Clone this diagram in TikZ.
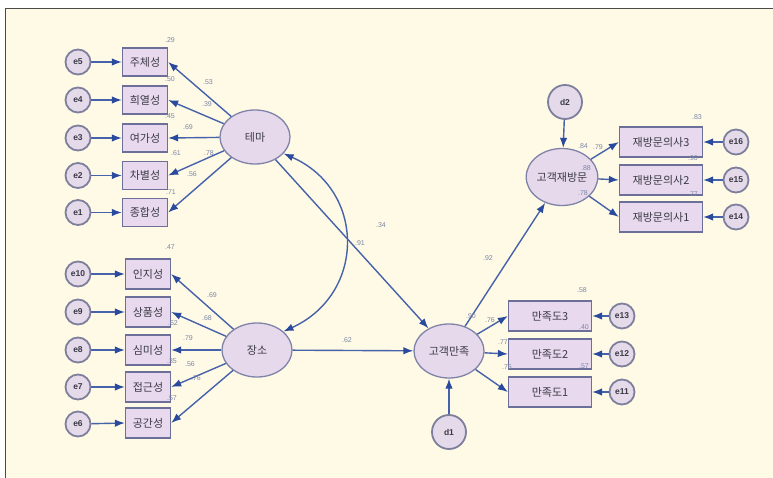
\documentclass[tikz,border=0pt]{standalone}
\usepackage{fontspec}
\setmainfont{Liberation Sans}
\newfontfamily\kr{Noto Sans CJK KR}
\usetikzlibrary{arrows.meta,shapes.geometric}
\definecolor{bg}{HTML}{FFFAE6}
\definecolor{framec}{HTML}{4A4A48}
\definecolor{boxfill}{HTML}{E8D9EE}
\definecolor{boxdraw}{HTML}{6C7099}
\definecolor{ellfill}{HTML}{E7D9EC}
\definecolor{elldraw}{HTML}{7F83A8}
\definecolor{circfill}{HTML}{E4DAEA}
\definecolor{circdraw}{HTML}{7D7F9C}
\definecolor{linec}{HTML}{4562AA}
\definecolor{tipc}{HTML}{2A4A9E}
\definecolor{txt}{HTML}{3A3A44}
\definecolor{labc}{HTML}{7C86A6}
\begin{document}
\begin{tikzpicture}[x=1pt,y=-1pt,
  obs/.style={draw=boxdraw, line width=1.3pt, fill=boxfill, minimum width=45pt, minimum height=28pt, inner sep=0pt, font=\kr\fontsize{11}{12}\selectfont, text=txt},
  obsw/.style={obs, minimum width=83pt, minimum height=30pt},
  lat/.style={ellipse, draw=elldraw, line width=1.3pt, fill=ellfill, minimum width=70pt, minimum height=54pt, inner sep=0pt, font=\kr\fontsize{11}{12}\selectfont, text=txt},
  err/.style={circle, draw=circdraw, line width=1.8pt, fill=circfill, minimum size=25pt, inner sep=0pt, font=\bfseries\fontsize{8.5}{9}\selectfont, text=txt},
  dist/.style={err, minimum size=34pt},
  arr/.style={draw=linec, line width=1.4pt, -{Latex[length=10pt,width=7.5pt,color=tipc]}},
  arrb/.style={draw=linec, line width=1.4pt, {Latex[length=10pt,width=7.5pt,color=tipc]}-{Latex[length=10pt,width=7.5pt,color=tipc]}},
  lab/.style={font=\fontsize{7}{8}\selectfont, text=labc, inner sep=0pt}
]
\useasboundingbox (0,0) rectangle (773,478);
\fill[white] (0,0) rectangle (773,478);
\fill[bg] (5,8) rectangle (773,478);
\draw[framec, line width=1.5pt] (5.5,478) -- (5.5,8.5) -- (773,8.5);

% latent nodes
\node[lat] (tema) at (255,137) {테마};
\node[lat] (place) at (257,350) {장소};
\node[lat] (sat) at (449,351) {고객만족};
\node[lat, minimum width=68pt, minimum height=57pt] (rev) at (562,177) {고객재방문};
\node[dist] (d1) at (449,432) {d1};
\node[dist] (d2) at (565,102) {d2};

% theme indicators
\node[obs] (t1) at (145,62) {주체성};
\node[obs] (t2) at (145,100) {희열성};
\node[obs] (t3) at (145,138) {여가성};
\node[obs] (t4) at (145,175.5) {차별성};
\node[obs] (t5) at (145,212.5) {종합성};
\node[err] (e5) at (78,62) {e5};
\node[err] (e4) at (78,100) {e4};
\node[err] (e3) at (78,138) {e3};
\node[err] (e2) at (78,175.5) {e2};
\node[err] (e1) at (78,212.5) {e1};

% place indicators
\node[obs, minimum height=30pt] (p1) at (148,274) {인지성};
\node[obs, minimum height=30pt] (p2) at (148,312) {상품성};
\node[obs, minimum height=30pt] (p3) at (148,350) {심미성};
\node[obs, minimum height=30pt] (p4) at (148,387) {접근성};
\node[obs, minimum height=30pt] (p5) at (148,423) {공간성};
\node[err] (e10) at (78,274) {e10};
\node[err] (e9) at (78,312) {e9};
\node[err] (e8) at (78,350) {e8};
\node[err] (e7) at (78,387) {e7};
\node[err] (e6) at (78,424) {e6};

% satisfaction indicators
\node[obsw] (s3) at (550,316) {만족도3};
\node[obsw] (s2) at (550,354) {만족도2};
\node[obsw] (s1) at (550,392) {만족도1};
\node[err] (e13) at (622,316) {e13};
\node[err] (e12) at (622,354) {e12};
\node[err] (e11) at (622,392) {e11};

% revisit indicators
\node[obsw] (r3) at (661,142) {재방문의사3};
\node[obsw] (r2) at (661,180) {재방문의사2};
\node[obsw] (r1) at (661,217) {재방문의사1};
\node[err] (e16) at (736,142) {e16};
\node[err] (e15) at (736,180) {e15};
\node[err] (e14) at (736,217) {e14};

% error arrows
\foreach \e/\b in {e5/t1,e4/t2,e3/t3,e2/t4,e1/t5,e10/p1,e9/p2,e8/p3,e7/p4,e6/p5}
  \draw[arr] (\e) -- (\b.west);
\foreach \e/\b in {e13/s3,e12/s2,e11/s1,e16/r3,e15/r2,e14/r1}
  \draw[arr] (\e) -- (\b.east);

% loadings
\foreach \b in {t1,t2,t3,t4,t5} \draw[arr] (tema) -- (\b.east);
\foreach \b in {p1,p2,p3,p4,p5} \draw[arr] (place) -- (\b.east);
\foreach \b in {s3,s2,s1} \draw[arr] (sat) -- (\b.west);
\foreach \b in {r3,r2,r1} \draw[arr] (rev) -- (\b.west);

% structural
\draw[arr] (tema) -- (sat);
\draw[arr] (place) -- (sat);
\draw[arr] (sat) -- (rev);
\draw[arr] (d1) -- (sat);
\draw[arr] (d2) -- (rev);
\draw[arrb] (tema.-30) .. controls (366,190) and (366,294) .. (place.35);

% labels theme
\node[lab] at (170,40) {.29};
\node[lab] at (208,82) {.53};
\node[lab] at (170,79) {.50};
\node[lab] at (207,104) {.39};
\node[lab] at (170,116) {.45};
\node[lab] at (188,127) {.69};
\node[lab] at (176,153) {.61};
\node[lab] at (209,153) {.78};
\node[lab] at (192,174) {.56};
\node[lab] at (171,192) {.71};
% labels place
\node[lab] at (170,247) {.47};
\node[lab] at (212,295) {.69};
\node[lab] at (207,318) {.68};
\node[lab] at (173,323) {.62};
\node[lab] at (188,338) {.79};
\node[lab] at (172,361) {.35};
\node[lab] at (190,364) {.56};
\node[lab] at (196,378) {.76};
\node[lab] at (172,398) {.57};
% structural labels
\node[lab] at (381,225) {.34};
\node[lab] at (360,243) {.91};
\node[lab] at (347,340) {.62};
\node[lab] at (488,258) {.92};
% revisit labels
\node[lab] at (697,117) {.83};
\node[lab] at (583,146) {.84};
\node[lab] at (598,147) {.79};
\node[lab] at (693,158) {.90};
\node[lab] at (586,168) {.88};
\node[lab] at (693,194) {.77};
\node[lab] at (583,193) {.78};
% satisfaction labels
\node[lab] at (582,290) {.58};
\node[lab] at (471,316) {.90};
\node[lab] at (490,320) {.76};
\node[lab] at (503,342) {.77};
\node[lab] at (507,367) {.76};
\node[lab] at (584,327) {.40};
\node[lab] at (584,366) {.57};
\end{tikzpicture}
\end{document}
